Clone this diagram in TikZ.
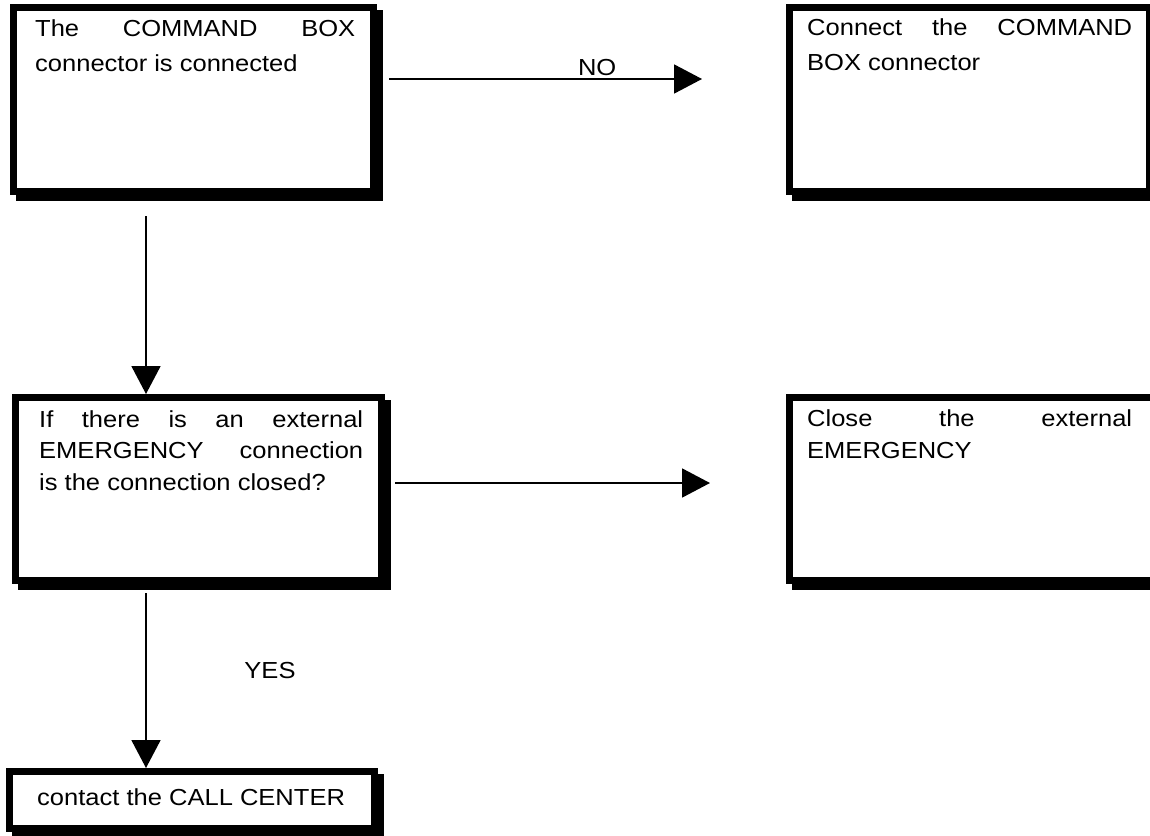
\documentclass[tikz,border=0pt]{standalone}
\usepackage{fontspec}
\setmainfont{Liberation Sans}[FakeStretch=1.1]
\usetikzlibrary{arrows.meta,backgrounds}
\newcommand\flowfont{\fontsize{23.2}{35}\selectfont}
\begin{document}
\begin{tikzpicture}[x=1pt,y=-1pt,
  stepbox/.style={rectangle, draw=black, fill=white, line width=7pt,
                  outer sep=3.5pt, inner sep=0pt},
  boxtext/.style={inner sep=0pt, anchor=base west, font=\flowfont},
  flow/.style={line width=1.8pt, -{Triangle[length=28pt,width=29pt]}},
  lbl/.style={inner sep=0pt, font=\flowfont}]
\useasboundingbox (0,0) rectangle (1150,835);

% step boxes
\node[stepbox, minimum width=360pt, minimum height=184pt] (b1) at (193.5,99.5) {};
\node[stepbox, minimum width=360pt, minimum height=184pt] (b2) at (969.5,99.5) {};
\node[stepbox, minimum width=366pt, minimum height=183pt] (b3) at (198.5,489) {};
\node[stepbox, minimum width=366pt, minimum height=183pt] (b4) at (972.5,489) {};
\node[stepbox, minimum width=365pt, minimum height=57pt]  (b5) at (192,800) {};

% box texts, justified lines set to a fixed width
\node[boxtext] (t1) at (35,36.7) {\vtop{%
  \hbox to 320pt{The\hfill COMMAND\hfill BOX}
  \hbox{connector is connected}}};
\node[boxtext] (t2) at (807,35) {\vtop{%
  \hbox to 325pt{Connect\hfill the\hfill COMMAND}
  \hbox{BOX connector}}};
\node[boxtext] (t3) at (39,427) {\vtop{\baselineskip=31.7pt
  \hbox to 324pt{If\hfill there\hfill is\hfill an\hfill external}
  \hbox to 324pt{EMERGENCY\hfill connection}
  \hbox{is the connection closed?}}};
\node[boxtext] (t4) at (807,426.7) {\vtop{\baselineskip=31.7pt
  \hbox to 325pt{Close\hfill the\hfill external}
  \hbox{EMERGENCY}}};
\node[boxtext] (t5) at (37,805) {contact the CALL CENTER};

% drop shadows behind the boxes
\begin{scope}[on background layer]
  \foreach \n in {b1,b2,b3,b4,b5}
    \fill ([shift={(6pt,-6pt)}]\n.south west) rectangle ([shift={(6pt,-6pt)}]\n.north east);
\end{scope}

% connectors
\draw[flow] ([xshift=12pt,yshift=-75pt]b1.north east)
  -- node[lbl, pos=0.665, anchor=base, yshift=4pt] (no) {NO}
  ([xshift=-84pt,yshift=-75pt]b2.north west);
\draw[flow] ([xshift=136pt,yshift=-21pt]b1.south west) -- ([xshift=134pt]b3.north west);
\draw[flow] ([xshift=10pt,yshift=-89pt]b3.north east) -- ([xshift=-76pt,yshift=-89pt]b4.north west);
\draw[flow] ([xshift=134pt,yshift=-9pt]b3.south west)
  -- node[lbl, pos=0.49, anchor=base, xshift=124pt] (yes) {YES}
  ([xshift=140pt]b5.north west);
\end{tikzpicture}
\end{document}
